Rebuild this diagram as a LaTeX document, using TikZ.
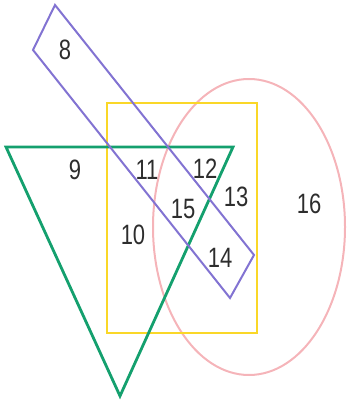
\documentclass[tikz,border=0pt]{standalone}
\usepackage{fontspec}
\setmainfont{Liberation Sans}
\definecolor{tgreen}{RGB}{20,160,110}
\definecolor{syellow}{RGB}{250,215,40}
\definecolor{cpink}{RGB}{245,180,185}
\definecolor{rpurple}{RGB}{130,115,210}
\definecolor{numgray}{RGB}{45,45,45}
\newcommand{\tallnum}[1]{\scalebox{0.88}[1.12]{#1}}
\begin{document}
\begin{tikzpicture}[
        x=1pt, y=-1pt,
        num/.style={text=numgray, font=\fontsize{25}{27}\selectfont, inner sep=0pt},
        shapeline/.style={draw, line width=#1, line join=miter}
    ]
        \useasboundingbox (0,0) rectangle (348,403);

        % the four sets
        \draw [shapeline=2pt, cpink] (249,227) ellipse [x radius=96, y radius=148];
        \draw [shapeline=2.6pt, syellow] (107,103) rectangle (257,333);
        \draw [shapeline=2.8pt, tgreen] (6,147) -- (233,147) -- (120,396) -- cycle;
        \draw [shapeline=2pt, rpurple] (55,5) -- (254,255) -- (230,298) -- (33,50) -- cycle;

        % region labels
        \node [num] (n8) at (65,50) {\tallnum{8}};
        \node [num] (n9) at (75,170) {\tallnum{9}};
        \node [num] (n10) at (133,235) {\tallnum{10}};
        \node [num] (n11) at (147,170) {\tallnum{11}};
        \node [num] (n12) at (205,169) {\tallnum{12}};
        \node [num] (n13) at (236,197) {\tallnum{13}};
        \node [num] (n14) at (220,258) {\tallnum{14}};
        \node [num] (n15) at (183,209) {\tallnum{15}};
        \node [num] (n16) at (309,204) {\tallnum{16}};
    \end{tikzpicture}
\end{document}
